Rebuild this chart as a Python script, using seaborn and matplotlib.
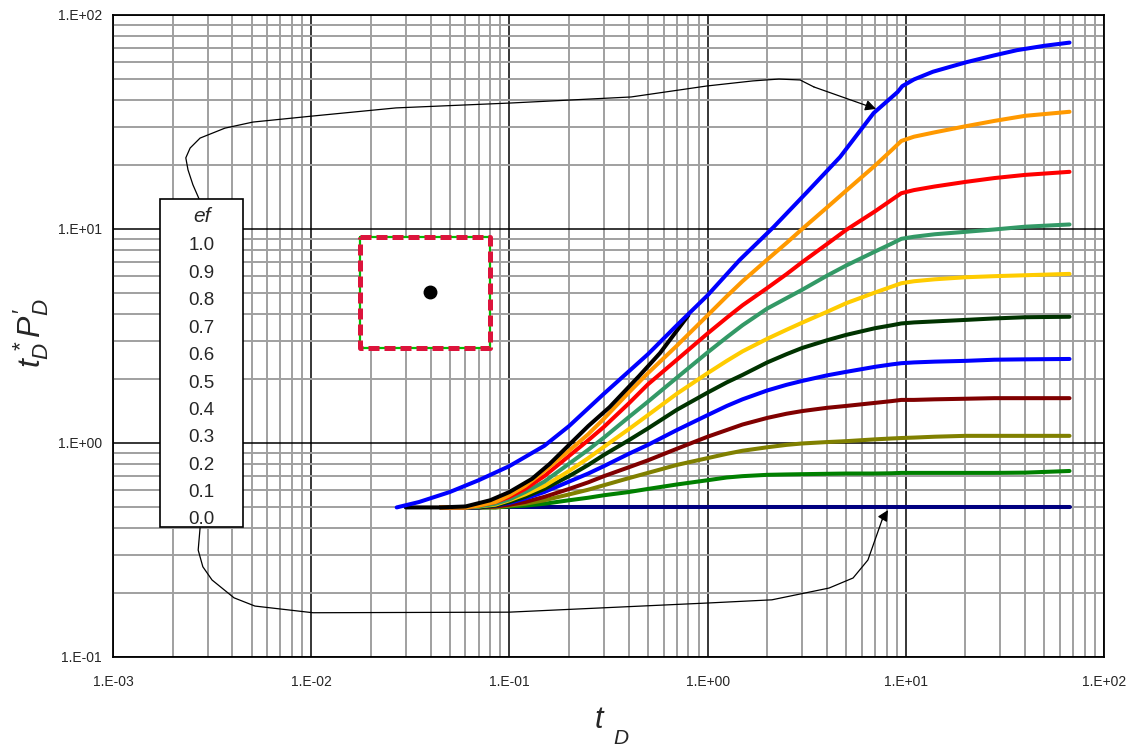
import numpy as np
import pandas as pd
import seaborn as sns
import matplotlib
matplotlib.use("Agg")
import matplotlib.pyplot as plt
from matplotlib.ticker import FixedLocator, NullFormatter, FixedFormatter
from matplotlib.patches import Rectangle

# ---------------- data ----------------
T_FAN = [0.045, 0.06, 0.07, 0.085, 0.1, 0.12, 0.15, 0.2, 0.25, 0.3, 0.4, 0.5, 0.7, 1.0, 1.25,
         1.5, 2.0, 2.5, 3.0, 4.0, 5.0, 7.0, 8.5, 9.5, 11, 14, 20, 28, 40, 67]
EF_09 = [0.5, 0.5, 0.51, 0.53, 0.57, 0.63, 0.74, 0.92, 1.1, 1.3, 1.72, 2.12, 2.85, 3.95, 4.85,
         5.7, 7.2, 8.6, 10.0, 12.6, 15.1, 19.8, 23.4, 25.8, 27.0, 28.3, 30.2, 32.0, 33.8, 35.3]
EF_08 = [0.5, 0.5, 0.51, 0.53, 0.56, 0.61, 0.7, 0.87, 1.03, 1.19, 1.53, 1.88, 2.45, 3.25, 3.85,
         4.4, 5.3, 6.15, 7.0, 8.5, 9.9, 12.1, 13.7, 14.7, 15.2, 15.8, 16.6, 17.3, 17.9, 18.5]
EF_07 = [0.5, 0.5, 0.505, 0.52, 0.545, 0.59, 0.66, 0.8, 0.93, 1.06, 1.32, 1.56, 2.02, 2.65, 3.12,
         3.55, 4.25, 4.75, 5.2, 6.05, 6.75, 7.85, 8.55, 9.0, 9.2, 9.45, 9.7, 9.95, 10.25, 10.5]
EF_06 = [0.5, 0.5, 0.505, 0.515, 0.54, 0.575, 0.63, 0.74, 0.85, 0.96, 1.16, 1.35, 1.7, 2.12, 2.42,
         2.68, 3.07, 3.38, 3.65, 4.1, 4.5, 5.05, 5.38, 5.58, 5.7, 5.82, 5.95, 6.02, 6.08, 6.17]
EF_05 = [0.5, 0.5, 0.5, 0.51, 0.53, 0.56, 0.61, 0.7, 0.79, 0.88, 1.03, 1.17, 1.43, 1.72, 1.92,
         2.08, 2.38, 2.6, 2.78, 3.02, 3.2, 3.44, 3.55, 3.62, 3.66, 3.7, 3.76, 3.82, 3.87, 3.89]
EF_04 = [0.5, 0.5, 0.5, 0.51, 0.525, 0.55, 0.59, 0.66, 0.72, 0.78, 0.89, 0.98, 1.15, 1.35, 1.49,
         1.6, 1.76, 1.87, 1.95, 2.07, 2.15, 2.27, 2.33, 2.36, 2.38, 2.40, 2.42, 2.45, 2.46, 2.47]
EF_03 = [0.5, 0.5, 0.5, 0.505, 0.515, 0.53, 0.56, 0.61, 0.655, 0.7, 0.77, 0.83, 0.94, 1.07, 1.15,
         1.22, 1.31, 1.37, 1.41, 1.46, 1.49, 1.54, 1.57, 1.59, 1.59, 1.6, 1.61, 1.62, 1.62, 1.62]
EF_02 = [0.5, 0.5, 0.5, 0.5, 0.51, 0.52, 0.54, 0.575, 0.605, 0.635, 0.685, 0.725, 0.79, 0.85, 0.89,
         0.92, 0.955, 0.98, 0.995, 1.01, 1.02, 1.04, 1.05, 1.055, 1.06, 1.07, 1.08, 1.08, 1.08, 1.08]
EF_01 = [0.5, 0.5, 0.5, 0.5, 0.505, 0.51, 0.52, 0.54, 0.555, 0.57, 0.59, 0.61, 0.64, 0.67, 0.69,
         0.70, 0.71, 0.713, 0.715, 0.718, 0.72, 0.72, 0.722, 0.725, 0.725, 0.725, 0.725, 0.725,
         0.727, 0.74]
EF_00 = [0.5, 0.5, 0.5, 0.5, 0.5, 0.5, 0.5, 0.5, 0.5, 0.5, 0.5, 0.5, 0.5, 0.5, 0.5,
         0.5, 0.5, 0.5, 0.5, 0.5, 0.5, 0.5, 0.5, 0.5, 0.5, 0.5, 0.5, 0.5, 0.5, 0.5]

T_EF10 = [0.027, 0.035, 0.05, 0.07, 0.1, 0.15, 0.2, 0.3, 0.5, 0.7, 1.0, 1.45, 2.15, 3.18, 4.66,
          6.88, 9.1, 9.6, 11, 13.7, 17, 20.4, 28, 36.4, 50, 67]
EF_10 = [0.5, 0.53, 0.59, 0.67, 0.78, 0.97, 1.2, 1.7, 2.6, 3.55, 4.9, 7.16, 10.2, 14.9, 21.7,
         34.8, 43.7, 46.5, 50.0, 54.3, 57.5, 60.3, 64.8, 68.5, 71.8, 74.3]

T_BLACK = [0.03, 0.045, 0.06, 0.08, 0.1, 0.13, 0.16, 0.2, 0.25, 0.32, 0.45, 0.575, 0.8]
V_BLACK = [0.5, 0.5, 0.505, 0.54, 0.59, 0.68, 0.8, 0.98, 1.2, 1.47, 2.05, 2.63, 3.95]

EF_LABELS = ["1.0", "0.9", "0.8", "0.7", "0.6", "0.5", "0.4", "0.3", "0.2", "0.1", "0.0"]
FAN_SERIES = {"0.9": EF_09, "0.8": EF_08, "0.7": EF_07, "0.6": EF_06, "0.5": EF_05,
              "0.4": EF_04, "0.3": EF_03, "0.2": EF_02, "0.1": EF_01, "0.0": EF_00}
COLORS = {"1.0": "#0000FF", "0.9": "#FF9900", "0.8": "#FF0000", "0.7": "#339966",
          "0.6": "#FFCC00", "0.5": "#003300", "0.4": "#0000FF", "0.3": "#800000",
          "0.2": "#808000", "0.1": "#008000", "0.0": "#000080", "ref": "#000000"}

X_TICKS = [1e-3, 1e-2, 1e-1, 1e0, 1e1, 1e2]
X_TICK_LABELS = ["1.E-03", "1.E-02", "1.E-01", "1.E+00", "1.E+01", "1.E+02"]
Y_TICKS = [1e-1, 1e0, 1e1, 1e2]
Y_TICK_LABELS = ["1.E-01", "1.E+00", "1.E+01", "1.E+02"]

# annotation arrow paths (data coords)
ARROW_TOP_T = [0.00272, 0.00253, 0.00239, 0.00233, 0.00245, 0.00275, 0.00367, 0.00508, 0.0101,
               0.0268, 0.102, 0.411, 0.993, 1.69, 2.29, 2.93, 3.44, 7.08]
ARROW_TOP_V = [13.8, 16.1, 18.9, 21.5, 23.9, 26.6, 29.6, 31.6, 33.7, 36.8, 38.8, 41.4, 46.6,
               49.2, 50.2, 49.7, 46.1, 36.4]
ARROW_BOT_T = [0.00275, 0.00269, 0.00284, 0.00316, 0.00408, 0.00520, 0.0102, 0.0995, 1.03,
               2.11, 4.10, 5.42, 6.44, 7.59, 8.13]
ARROW_BOT_V = [0.401, 0.316, 0.264, 0.229, 0.189, 0.173, 0.161, 0.162, 0.179, 0.185, 0.210,
               0.234, 0.284, 0.437, 0.486]

# well icon (square boundary with a well)
ICON_T = [0.0176, 0.0798, 0.0798, 0.0176, 0.0176]
ICON_V = [9.18, 9.18, 2.78, 2.78, 9.18]
WELL_T = [0.0397]
WELL_V = [5.08]

# ---------------- style ----------------
sns.set_style("white")
plt.rcParams["font.family"] = ["Liberation Sans", "DejaVu Sans"]
plt.rcParams["mathtext.fontset"] = "custom"
plt.rcParams["mathtext.it"] = "Liberation Sans:italic"
plt.rcParams["mathtext.rm"] = "Liberation Sans"

W, H = 1137, 749
fig = plt.figure(figsize=(W / 100, H / 100), dpi=100)
ax = fig.add_axes([113 / W, 1 - 657 / H, (1104 - 113) / W, (657 - 15) / H])
ax.set_xscale("log")
ax.set_yscale("log")
ax.set_xlim(1e-3, 1e2)
ax.set_ylim(1e-1, 1e2)

# grid
ax.xaxis.set_major_locator(FixedLocator(X_TICKS))
ax.xaxis.set_major_formatter(FixedFormatter(X_TICK_LABELS))
ax.yaxis.set_major_locator(FixedLocator(Y_TICKS))
ax.yaxis.set_major_formatter(FixedFormatter(Y_TICK_LABELS))
minor = [m * 10.0 ** e for e in range(-3, 2) for m in range(2, 10)]
ax.xaxis.set_minor_locator(FixedLocator(minor))
ax.yaxis.set_minor_locator(FixedLocator([v for v in minor if v >= 0.1]))
ax.xaxis.set_minor_formatter(NullFormatter())
ax.yaxis.set_minor_formatter(NullFormatter())
ax.grid(which="minor", color="#a0a0a0", lw=1.4)
ax.grid(which="major", color="black", lw=1.1)
ax.set_axisbelow(True)
ax.tick_params(which="both", length=0)
ax.tick_params(axis="x", pad=13, labelsize=10)
ax.tick_params(axis="y", pad=8, labelsize=10)
for s in ax.spines.values():
    s.set_color("black")
    s.set_linewidth(1.3)

# fan of curves
rows = []
order = ["0.0", "0.1", "0.2", "0.3", "0.4", "0.5", "0.6", "0.7", "0.8", "0.9"]
for k in order:
    for t, v in zip(T_FAN, FAN_SERIES[k]):
        rows.append((t, v, k))
df = pd.DataFrame(rows, columns=["t", "v", "ef"])
sns.lineplot(data=df, x="t", y="v", hue="ef", hue_order=order, palette=COLORS,
             estimator=None, sort=False, linewidth=2.9, legend=False, ax=ax)

df_ref = pd.DataFrame({"t": T_BLACK, "v": V_BLACK})
sns.lineplot(data=df_ref, x="t", y="v", color=COLORS["ref"], estimator=None, sort=False,
             linewidth=2.9, ax=ax)
df_10 = pd.DataFrame({"t": T_EF10, "v": EF_10})
sns.lineplot(data=df_10, x="t", y="v", color=COLORS["1.0"], estimator=None, sort=False,
             linewidth=2.9, ax=ax)
for ln in ax.get_lines():
    ln.set_solid_joinstyle("round")
ax.set_xlabel("")
ax.set_ylabel("")

# arrows
for tt, vv in ((ARROW_TOP_T, ARROW_TOP_V), (ARROW_BOT_T, ARROW_BOT_V)):
    ax.plot(tt[:-1], vv[:-1], color="black", lw=0.9, solid_capstyle="round",
            solid_joinstyle="round")
    ax.annotate("", xy=(tt[-1], vv[-1]), xytext=(tt[-2], vv[-2]),
                arrowprops=dict(arrowstyle="-|>", color="black", lw=0.9,
                                mutation_scale=16, shrinkA=0, shrinkB=0))

# icon
ax.fill_between([ICON_T[0], ICON_T[1]], ICON_V[2], ICON_V[0], color="white", zorder=4)
ax.plot(ICON_T, ICON_V, color="#00C000", lw=1.6, zorder=5)
ax.plot(ICON_T, ICON_V, color="#DC143C", lw=3.6, ls=(0, (2.2, 1.0)), zorder=6)
ax.plot(WELL_T, WELL_V, "o", color="black", ms=9, zorder=7)

# legend box
fig.add_artist(Rectangle((160 / W, 1 - 527 / H), 83 / W, 328 / H, transform=fig.transFigure,
                         facecolor="white", edgecolor="black", lw=1.2, zorder=5))
fig.text(201.5 / W, 1 - 217 / H, "ef", fontsize=15, style="italic", ha="center",
         va="center", zorder=6)
for i, lab in enumerate(EF_LABELS):
    fig.text(201.5 / W, 1 - (246 + 27.4 * i) / H, lab, fontsize=13.5, ha="center",
             va="center", zorder=6)

# axis labels
fig.text(599 / W, 1 - 720 / H, "t", fontsize=22, style="italic", ha="center", va="center")
fig.text(621 / W, 1 - 738 / H, "D", fontsize=15, style="italic", ha="center", va="center")
fig.text(31 / W, 1 - 333 / H, r"$t_D^{\,*}P_D^{\prime}$", fontsize=23, rotation=90,
         ha="center", va="center")

fig.savefig("out.png", dpi=100)
